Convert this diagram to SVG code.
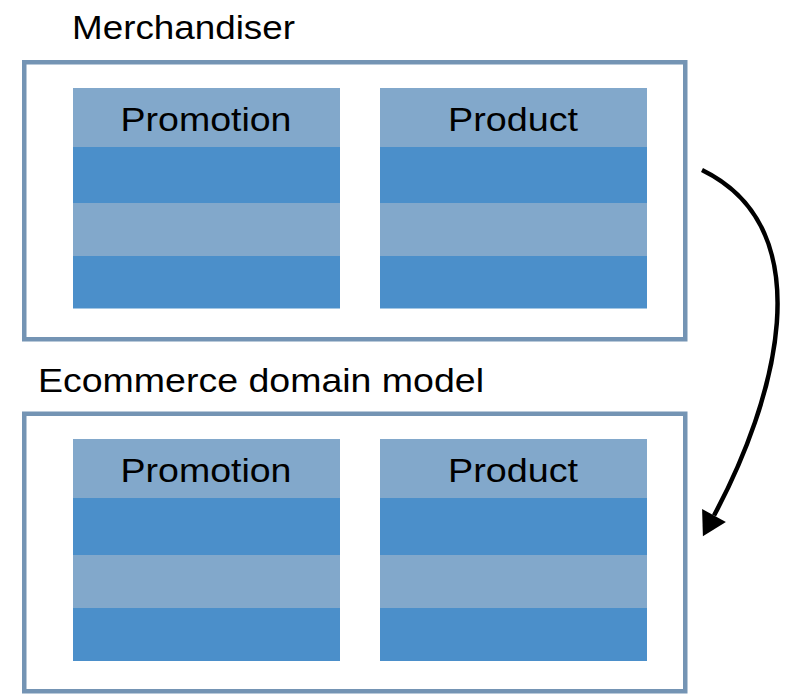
<svg xmlns="http://www.w3.org/2000/svg" width="793" height="697" viewBox="0 0 793 697">
  <defs>
    <style>
      .frame { fill: #ffffff; stroke: #7494B4; stroke-width: 4.5; }
      .hdr { fill: #82A8CB; }
      .dark { fill: #4B8FCA; }
      .light { fill: #82A8CB; }
      .title { font-family: "Liberation Sans", Arial, sans-serif; font-size: 33px; fill: #000000; }
      .lbl { font-family: "Liberation Sans", Arial, sans-serif; font-size: 34px; fill: #000000; text-anchor: middle; }
      .conn { fill: none; stroke: #000000; stroke-width: 4.5; }
    </style>
    <marker id="arrow" markerUnits="userSpaceOnUse" markerWidth="40" markerHeight="40" refX="0" refY="0" viewBox="-5 -20 40 40" orient="auto">
      <path d="M23.5,0 L0,-13.5 L0,13.5 Z" fill="#000000"/>
    </marker>
  </defs>
  <rect width="793" height="697" fill="#ffffff"/>

  <g id="merchandiser">
    <text class="title" x="72" y="39" textLength="223" lengthAdjust="spacingAndGlyphs">Merchandiser</text>
    <rect class="frame" x="24.25" y="62.25" width="661" height="277"/>
  </g>
  <g id="merch-promotion">
    <rect class="hdr" x="73" y="88" width="267" height="59"/>
    <rect class="dark" x="73" y="147" width="267" height="56"/>
    <rect class="light" x="73" y="203" width="267" height="53"/>
    <rect class="dark" x="73" y="256" width="267" height="52.5"/>
    <text class="lbl" x="206" y="131" textLength="171" lengthAdjust="spacingAndGlyphs">Promotion</text>
  </g>
  <g id="merch-product">
    <rect class="hdr" x="380" y="88" width="267" height="59"/>
    <rect class="dark" x="380" y="147" width="267" height="56"/>
    <rect class="light" x="380" y="203" width="267" height="53"/>
    <rect class="dark" x="380" y="256" width="267" height="52.5"/>
    <text class="lbl" x="513" y="131" textLength="130" lengthAdjust="spacingAndGlyphs">Product</text>
  </g>

  <g id="ecommerce">
    <text class="title" x="38" y="392" textLength="446" lengthAdjust="spacingAndGlyphs">Ecommerce domain model</text>
    <rect class="frame" x="24.25" y="413.75" width="661" height="277.5"/>
  </g>
  <g id="ecom-promotion">
    <rect class="hdr" x="73" y="439" width="267" height="59"/>
    <rect class="dark" x="73" y="498" width="267" height="57"/>
    <rect class="light" x="73" y="555" width="267" height="53"/>
    <rect class="dark" x="73" y="608" width="267" height="53"/>
    <text class="lbl" x="206" y="482" textLength="171" lengthAdjust="spacingAndGlyphs">Promotion</text>
  </g>
  <g id="ecom-product">
    <rect class="hdr" x="380" y="439" width="267" height="59"/>
    <rect class="dark" x="380" y="498" width="267" height="57"/>
    <rect class="light" x="380" y="555" width="267" height="53"/>
    <rect class="dark" x="380" y="608" width="267" height="53"/>
    <text class="lbl" x="513" y="482" textLength="130" lengthAdjust="spacingAndGlyphs">Product</text>
  </g>

  <g id="connectors">
    <path class="conn" d="M702,170 C825,230 774.5,402.75 714,515.5" marker-end="url(#arrow)"/>
  </g>
</svg>
